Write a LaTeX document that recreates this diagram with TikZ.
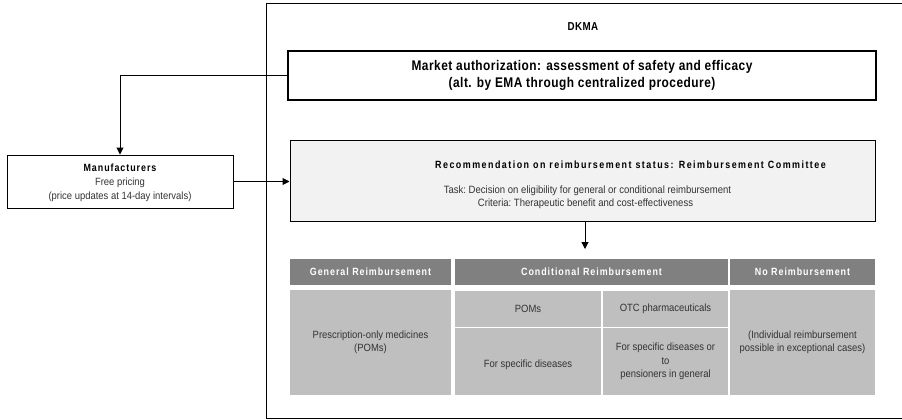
\documentclass[tikz,border=0pt]{standalone}
\usepackage{fontspec}
\setmainfont{Liberation Sans}[FakeStretch=0.9]
\newfontfamily\mafont{Liberation Sans}[FakeStretch=0.85, LetterSpace=3.5]
\newfontfamily\hdrfont{Liberation Sans}[FakeStretch=0.85, LetterSpace=9]
\newfontfamily\recfont{Liberation Sans}[FakeStretch=0.85, LetterSpace=14]
\usetikzlibrary{arrows.meta}
\definecolor{hdr}{HTML}{808080}
\definecolor{cell}{HTML}{BFBFBF}
\definecolor{recfill}{HTML}{F2F2F2}
\definecolor{txt}{HTML}{333333}
\tikzset{
  box/.style={draw=black, line width=1pt, inner sep=0pt},
  hdrcell/.style={fill=hdr, inner sep=0pt, text=white, font=\hdrfont\bfseries\fontsize{10.5}{12}\selectfont},
  bodycell/.style={fill=cell, inner sep=0pt, text=txt, align=center, font=\fontsize{10.5}{13.5}\selectfont},
  arr/.style={-{Triangle[length=7pt,width=7pt]}, line width=1pt},
}
\begin{document}
\begin{tikzpicture}[x=1pt,y=-1pt]
\useasboundingbox (0,0) rectangle (902,420);
\begin{scope}
\clip (0,0) rectangle (902,420);
% outer DKMA box
\draw[line width=1pt] (266,4) rectangle (910,418);
\end{scope}
\node[font=\mafont\bfseries\fontsize{11.5}{13}\selectfont] (dkma) at (583,27) {DKMA};
% market authorization
\node[box, line width=1.3pt, minimum width=588pt, minimum height=49pt, align=center,
      font=\mafont\bfseries\fontsize{14}{17}\selectfont] (ma) at (582,75.5)
  {Market authorization: assessment of safety and efficacy\\(alt. by EMA through centralized procedure)};
% recommendation
\node[box, fill=recfill, minimum width=585pt, minimum height=81pt] (rec) at (582.5,180.5) {};
\node[font=\recfont\bfseries\fontsize{10.5}{12}\selectfont] (rect) at (630.5,165) {Recommendation on reimbursement status: Reimbursement Committee};
\node[text=txt, font=\fontsize{10.6}{13}\selectfont] (rectask) at (587.5,190.5)
  {Task:\ Decision on eligibility for general or conditional reimbursement};
\node[text=txt, font=\fontsize{10.6}{13}\selectfont] (reccrit) at (585.5,203.5)
  {Criteria:\ Therapeutic benefit and cost-effectiveness};
% manufacturers
\node[box, minimum width=226pt, minimum height=53pt] (man) at (120,181.5) {};
\node[align=center, font=\fontsize{10.5}{14}\selectfont, text=txt] (mant) at (120,183)
  {\textcolor{black}{\hdrfont\bfseries Manufacturers}\\Free pricing\\(price updates at 14-day intervals)};
% arrows
\coordinate (mal) at (ma.west);
\draw[arr] (mal) -| (man.north);
\coordinate (recl) at (rec.west |- man.east);
\draw[arr] (man.east) -- (recl);
\coordinate (tabtop) at (585,249);
\draw[arr] (rec.south -| tabtop) -- (tabtop);
% table headers
\node[hdrcell, minimum width=161pt, minimum height=26pt] (h1) at (370.5,272) {General Reimbursement};
\node[hdrcell, minimum width=273pt, minimum height=26pt] (h2) at (591.5,272) {Conditional Reimbursement};
\node[hdrcell, minimum width=145pt, minimum height=26pt] (h3) at (802.5,272) {No Reimbursement};
% body
\node[bodycell, minimum width=161pt, minimum height=105pt] (b1) at (370.5,342.5) {Prescription-only medicines\\(POMs)};
\node[bodycell, minimum width=146pt, minimum height=36pt] (b2) at (528,308.5) {POMs};
\node[bodycell, minimum width=125pt, minimum height=36pt] (b3) at (665.5,308.5) {OTC pharmaceuticals};
\node[bodycell, minimum width=146pt, minimum height=67pt] (b4) at (528,361.5) {\\For specific diseases};
\node[bodycell, minimum width=125pt, minimum height=67pt] (b5) at (665.5,361.5) {For specific diseases or\\to\\pensioners in general};
\node[bodycell, minimum width=145pt, minimum height=105pt] (b6) at (802.5,342.5) {(Individual reimbursement\\possible in exceptional cases)};
\end{tikzpicture}
\end{document}
